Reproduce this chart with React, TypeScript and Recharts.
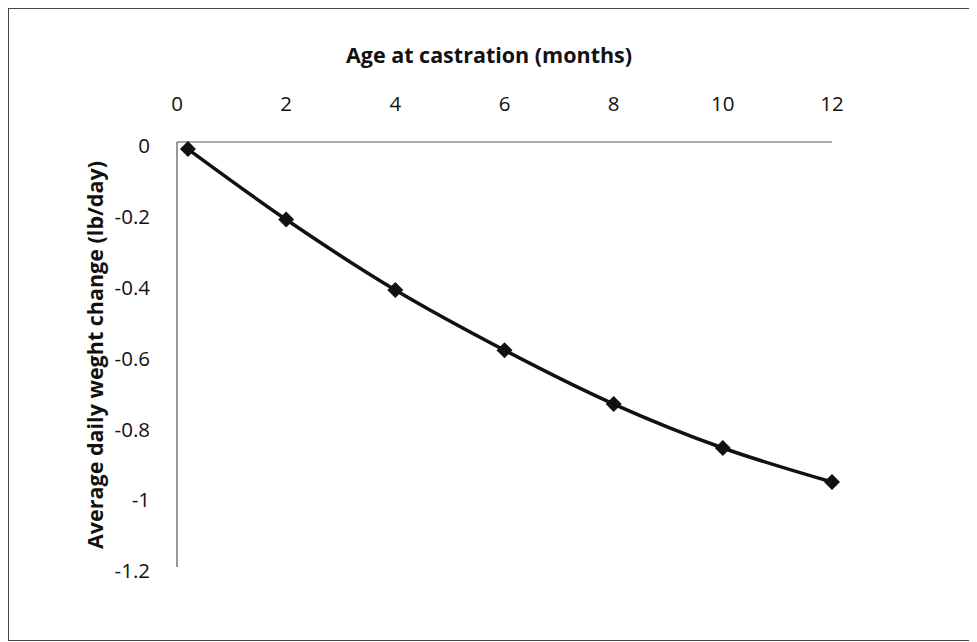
import React from 'react';
import { LineChart, Line, XAxis, YAxis } from 'recharts';

const ages = [0.2, 2, 4, 6, 8, 10, 12];
const weightChange = [-0.02, -0.219, -0.418, -0.588, -0.74, -0.864, -0.96];
const xTicks = [0, 2, 4, 6, 8, 10, 12];
const yTicks = [0, -0.2, -0.4, -0.6, -0.8, -1, -1.2];

const data = ages.map((age, i) => ({ age, change: weightChange[i] }));

const font = '"Open Sans", sans-serif';

const Diamond = (props: any) => {
    const { cx, cy } = props;
    if (cx == null || cy == null) return null;
    const r = 8;
    return (
        <polygon
            points={`${cx},${cy - r} ${cx + r},${cy} ${cx},${cy + r} ${cx - r},${cy}`}
            fill="#111"
        />
    );
};

const App: React.FC = () => {
    return (
        <div
            style={{
                position: 'relative',
                width: 967,
                height: 633,
                border: '1.5px solid #444',
                boxSizing: 'border-box',
                background: '#fff',
            }}
        >
            <div
                style={{
                    position: 'absolute',
                    left: 280,
                    width: 400,
                    top: 31,
                    textAlign: 'center',
                    fontFamily: font,
                    fontWeight: 700,
                    fontSize: 21.5,
                    color: '#111',
                }}
            >
                Age at castration (months)
            </div>
            <div
                style={{
                    position: 'absolute',
                    left: 86 - 250,
                    top: 346 - 15,
                    width: 500,
                    textAlign: 'center',
                    fontFamily: font,
                    fontWeight: 700,
                    fontSize: 21.5,
                    color: '#111',
                    transform: 'rotate(-90deg)',
                    transformOrigin: '250px 15px',
                }}
            >
                Average daily weght change (lb/day)
            </div>
            <LineChart
                width={964}
                height={630}
                data={data}
                margin={{ top: 73, left: 108, right: 141, bottom: 72 }}
                style={{ position: 'absolute', left: 0, top: 0 }}
            >
                <XAxis
                    dataKey="age"
                    type="number"
                    orientation="top"
                    domain={[0, 12]}
                    ticks={xTicks}
                    height={60}
                    tickLine={false}
                    tickSize={0}
                    tickMargin={31}
                    axisLine={{ stroke: '#555', strokeWidth: 1.2 }}
                    tick={{ fill: '#111', fontSize: 20.5, fontFamily: font }}
                />
                <YAxis
                    type="number"
                    domain={[-1.2, 0]}
                    ticks={yTicks}
                    width={60}
                    tickLine={false}
                    tickSize={0}
                    tickMargin={27}
                    axisLine={{ stroke: '#555', strokeWidth: 1.2 }}
                    tick={{ fill: '#111', fontSize: 20.5, fontFamily: font, dy: 4 }}
                />
                <Line
                    type="monotone"
                    dataKey="change"
                    stroke="#111"
                    strokeWidth={3.5}
                    dot={<Diamond />}
                    activeDot={false}
                    isAnimationActive={false}
                />
            </LineChart>
        </div>
    );
};

export default App;
